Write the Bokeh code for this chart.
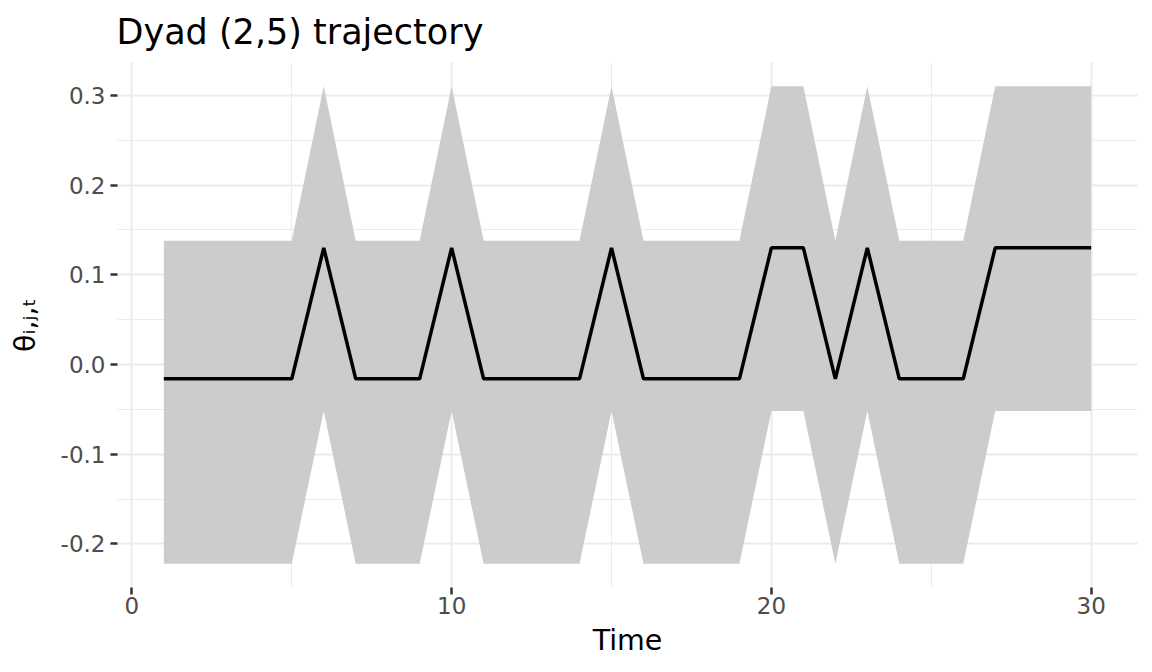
from bokeh.plotting import figure
from bokeh.models import Range1d, FixedTicker, PrintfTickFormatter, ColumnDataSource
from bokeh.embed import file_html
from bokeh.resources import INLINE

# ---- data ----
time = list(range(1, 31))
theta = [-0.016, -0.016, -0.016, -0.016, -0.016, 0.130, -0.016, -0.016, -0.016, 0.130,
         -0.016, -0.016, -0.016, -0.016, 0.130, -0.016, -0.016, -0.016, -0.016, 0.130,
         0.130, -0.016, 0.130, -0.016, -0.016, -0.016, 0.130, 0.130, 0.130, 0.130]
lower = [-0.222, -0.222, -0.222, -0.222, -0.222, -0.052, -0.222, -0.222, -0.222, -0.052,
         -0.222, -0.222, -0.222, -0.222, -0.052, -0.222, -0.222, -0.222, -0.222, -0.052,
         -0.052, -0.222, -0.052, -0.222, -0.222, -0.222, -0.052, -0.052, -0.052, -0.052]
upper = [0.138, 0.138, 0.138, 0.138, 0.138, 0.310, 0.138, 0.138, 0.138, 0.310,
         0.138, 0.138, 0.138, 0.138, 0.310, 0.138, 0.138, 0.138, 0.138, 0.310,
         0.310, 0.138, 0.310, 0.138, 0.138, 0.138, 0.310, 0.310, 0.310, 0.310]
x_ticks = [0, 10, 20, 30]
x_minor = [5, 15, 25]
y_ticks = [-0.2, -0.1, 0.0, 0.1, 0.2, 0.3]
y_minor = [-0.15, -0.05, 0.05, 0.15, 0.25]
title_text = "Dyad (2,5) trajectory"
x_label = "Time"
y_label = "θᵢ,ⱼ,ₜ"

src = ColumnDataSource(dict(time=time, theta=theta, lower=lower, upper=upper))

FONT = "DejaVu Sans"

p = figure(
    frame_width=1020, frame_height=525,
    min_border_left=117, min_border_right=14, min_border_top=62, min_border_bottom=84,
    x_range=Range1d(-0.45, 31.45), y_range=Range1d(-0.2486, 0.3366),
    output_backend="svg", toolbar_location=None,
)
p.outline_line_color = None
p.background_fill_color = "white"
p.border_fill_color = "white"

p.title.text = title_text
p.title.text_font = FONT
p.title.text_font_size = "35px"
p.title.text_font_style = "normal"
p.title.text_color = "black"
p.title.offset = -1
p.title.standoff = 20
p.title.vertical_align = "middle"

p.varea(x="time", y1="lower", y2="upper", source=src, fill_color="#CCCCCC")
p.line(x="time", y="theta", source=src, line_color="black", line_width=3.5)

p.xaxis.ticker = FixedTicker(ticks=x_ticks, minor_ticks=x_minor)
p.yaxis.ticker = FixedTicker(ticks=y_ticks, minor_ticks=y_minor)
p.yaxis.formatter = PrintfTickFormatter(format="%.1f")

for ax in (p.xaxis[0], p.yaxis[0]):
    ax.axis_line_color = None
    ax.major_tick_line_color = "#333333"
    ax.major_tick_line_width = 2.5
    ax.major_tick_out = 7
    ax.major_tick_in = 0
    ax.minor_tick_line_color = None
    ax.major_label_text_font = FONT
    ax.major_label_text_font_size = "23px"
    ax.major_label_text_color = "#4D4D4D"
    ax.major_label_standoff = 5
p.xaxis.major_label_standoff = 2

p.xaxis.axis_label = x_label
p.xaxis.axis_label_text_font = FONT
p.xaxis.axis_label_text_font_size = "28.5px"
p.xaxis.axis_label_text_font_style = "normal"
p.xaxis.axis_label_text_color = "black"
p.xaxis.axis_label_standoff = 7

p.yaxis.axis_label = y_label
p.yaxis.axis_label_text_font = FONT
p.yaxis.axis_label_text_font_size = "28.5px"
p.yaxis.axis_label_text_font_style = "normal"
p.yaxis.axis_label_text_color = "black"
p.yaxis.axis_label_standoff = 16

for g in (p.xgrid[0], p.ygrid[0]):
    g.grid_line_color = "#EBEBEB"
    g.grid_line_width = 2
    g.minor_grid_line_color = "#EBEBEB"
    g.minor_grid_line_width = 1

open("out.html", "w").write(file_html(p, INLINE))
